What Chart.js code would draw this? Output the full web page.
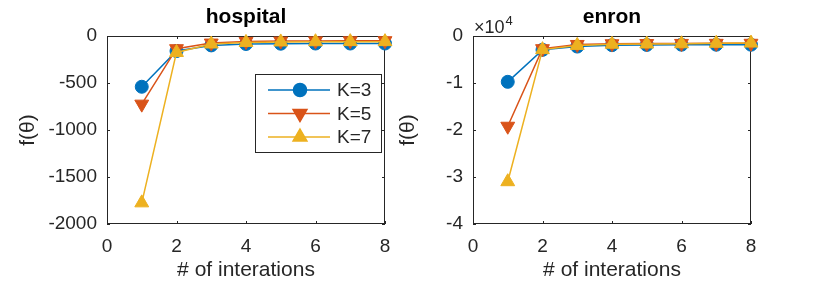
<!DOCTYPE html>
<html lang="en">
<head>
  <meta charset="UTF-8">
  <title>f(theta) vs iterations</title>
  <script src="https://cdn.jsdelivr.net/npm/chart.js"></script>
  <style>
    body { margin: 0; background: #fff; }
    #wrap { position: relative; width: 830px; height: 289px; }
    .panel { position: absolute; top: 0; height: 289px; }
  </style>
</head>
<body>
  <div id="wrap">
    <div class="panel" style="left:0;width:415px"><canvas id="hospitalChart"></canvas></div>
    <div class="panel" style="left:375px;width:455px"><canvas id="enronChart"></canvas></div>
  </div>

  <script>
    // data
    const iterations = [1, 2, 3, 4, 5, 6, 7, 8];
    const seriesLabels = ['K=3', 'K=5', 'K=7'];

    const hospitalK3 = [-540, -160, -100, -85, -82, -80, -80, -80];
    const hospitalK5 = [-725, -135, -75, -58, -54, -52, -51, -50];
    const hospitalK7 = [-1775, -175, -85, -68, -63, -61, -60, -60];

    const enronK3 = [-9750, -2950, -2250, -1950, -1900, -1850, -1850, -1850];
    const enronK5 = [-19200, -2700, -1800, -1650, -1600, -1580, -1560, -1550];
    const enronK7 = [-31000, -2900, -2000, -1750, -1700, -1650, -1550, -1500];

    const xTicks = [0, 2, 4, 6, 8];
    const hospitalTicks = [-2000, -1500, -1000, -500, 0];
    const enronTicks = [-40000, -30000, -20000, -10000, 0];

    const colors = ['#0072BD', '#D95319', '#EDB120'];
    const pointStyles = ['circle', 'triangle', 'triangle'];
    const pointRotations = [0, 180, 0];
    const pointSizes = [6.5, 8, 8];

    const FONT = "'Liberation Sans', Arial, sans-serif";
    const TEXT = '#262626';

    // box, inward ticks, title, exponent and legend (MATLAB look)
    const decor = {
      id: 'decor',
      beforeDatasetsDraw(chart, args, opts) {
        const { ctx, chartArea: a, scales } = chart;
        ctx.save();
        ctx.strokeStyle = TEXT;
        ctx.lineWidth = 1;
        ctx.strokeRect(a.left + 0.5, a.top + 0.5, a.right - a.left - 1, a.bottom - a.top - 1);
        ctx.beginPath();
        scales.x.ticks.forEach(t => {
          const px = Math.round(scales.x.getPixelForValue(t.value)) + 0.5;
          ctx.moveTo(px, a.bottom); ctx.lineTo(px, a.bottom - 3);
          ctx.moveTo(px, a.top); ctx.lineTo(px, a.top + 3);
        });
        scales.y.ticks.forEach(t => {
          const py = Math.round(scales.y.getPixelForValue(t.value)) + 0.5;
          ctx.moveTo(a.left, py); ctx.lineTo(a.left + 3, py);
          ctx.moveTo(a.right, py); ctx.lineTo(a.right - 3, py);
        });
        ctx.stroke();
        ctx.restore();
      },
      afterDraw(chart, args, opts) {
        const { ctx, chartArea: a } = chart;
        ctx.save();
        ctx.fillStyle = '#000';
        ctx.font = 'bold 21px ' + FONT;
        ctx.textAlign = 'center';
        ctx.textBaseline = 'alphabetic';
        ctx.fillText(opts.title, (a.left + a.right) / 2, 23);

        if (opts.exponent) {
          ctx.fillStyle = TEXT;
          ctx.textAlign = 'left';
          ctx.font = '18px ' + FONT;
          ctx.fillText('\u00d710', a.left + 1, 33);
          const w = ctx.measureText('\u00d710').width;
          ctx.font = '13px ' + FONT;
          ctx.fillText('4', a.left + 2 + w, 25);
        }

        if (opts.legend) {
          const bx = a.left + 148, by = a.top + 38, bw = 126, bh = 78;
          ctx.fillStyle = '#fff';
          ctx.fillRect(bx, by, bw, bh);
          ctx.strokeStyle = TEXT;
          ctx.lineWidth = 1;
          ctx.strokeRect(bx + 0.5, by + 0.5, bw, bh);
          ctx.font = '19px ' + FONT;
          ctx.textBaseline = 'middle';
          ctx.textAlign = 'left';
          seriesLabels.forEach((label, i) => {
            const ly = by + 16 + i * 23.5;
            ctx.strokeStyle = colors[i];
            ctx.lineWidth = 1.5;
            ctx.beginPath();
            ctx.moveTo(bx + 13, ly); ctx.lineTo(bx + 75, ly);
            ctx.stroke();
            ctx.fillStyle = colors[i];
            Chart.helpers.drawPoint(ctx, {
              pointStyle: pointStyles[i], rotation: pointRotations[i],
              radius: pointSizes[i], borderWidth: 1
            }, bx + 45, ly);
            ctx.fill();
            ctx.fillStyle = TEXT;
            ctx.fillText(label, bx + 82, ly + 1);
          });
        }
        ctx.restore();
      }
    };

    function makeDatasets(k3, k5, k7) {
      return [k3, k5, k7].map((vals, i) => ({
        label: seriesLabels[i],
        data: iterations.map((x, j) => ({ x: x, y: vals[j] })),
        borderColor: colors[i],
        backgroundColor: colors[i],
        borderWidth: 1.5,
        pointStyle: pointStyles[i],
        rotation: pointRotations[i],
        pointRadius: pointSizes[i],
        pointBorderWidth: 1,
        tension: 0,
        clip: false,
        order: 2 - i
      }));
    }

    function makePanel(canvasId, title, datasets, yTicks, tickFmt, axisW, rightPad, yTitlePad, legend, exponent) {
      return new Chart(document.getElementById(canvasId), {
        type: 'line',
        data: { datasets: datasets },
        plugins: [decor],
        options: {
          responsive: true,
          maintainAspectRatio: false,
          animation: false,
          events: [],
          layout: { padding: { top: 36, right: rightPad, left: 0, bottom: 0 } },
          plugins: {
            legend: { display: false },
            tooltip: { enabled: false },
            decor: { title: title, legend: legend, exponent: exponent }
          },
          scales: {
            x: {
              type: 'linear',
              min: xTicks[0],
              max: xTicks[xTicks.length - 1],
              afterBuildTicks: s => { s.ticks = xTicks.map(v => ({ value: v })); },
              afterFit: s => { s.height = 65; },
              grid: { display: false, drawTicks: false },
              border: { display: false },
              ticks: { color: TEXT, font: { family: FONT, size: 19 }, padding: 11, maxRotation: 0 },
              title: {
                display: true, text: '# of interations', color: TEXT,
                font: { family: FONT, size: 21 }, padding: { top: 0, bottom: 6 }
              }
            },
            y: {
              min: yTicks[0],
              max: yTicks[yTicks.length - 1],
              afterBuildTicks: s => { s.ticks = yTicks.map(v => ({ value: v })); },
              afterFit: s => { s.width = axisW; },
              grid: { display: false, drawTicks: false },
              border: { display: false },
              ticks: { color: TEXT, font: { family: FONT, size: 19 }, padding: 10, callback: tickFmt },
              title: {
                display: true, text: 'f(\u03b8)', color: TEXT,
                font: { family: FONT, size: 21 }, padding: { top: yTitlePad, bottom: 0 }
              }
            }
          }
        }
      });
    }

    makePanel('hospitalChart', 'hospital', makeDatasets(hospitalK3, hospitalK5, hospitalK7),
      hospitalTicks, v => String(v), 107, 30, 16, true, false);
    makePanel('enronChart', 'enron', makeDatasets(enronK3, enronK5, enronK7),
      enronTicks, v => String(v / 10000), 98, 79, 21, false, true);
  </script>
</body>
</html>
